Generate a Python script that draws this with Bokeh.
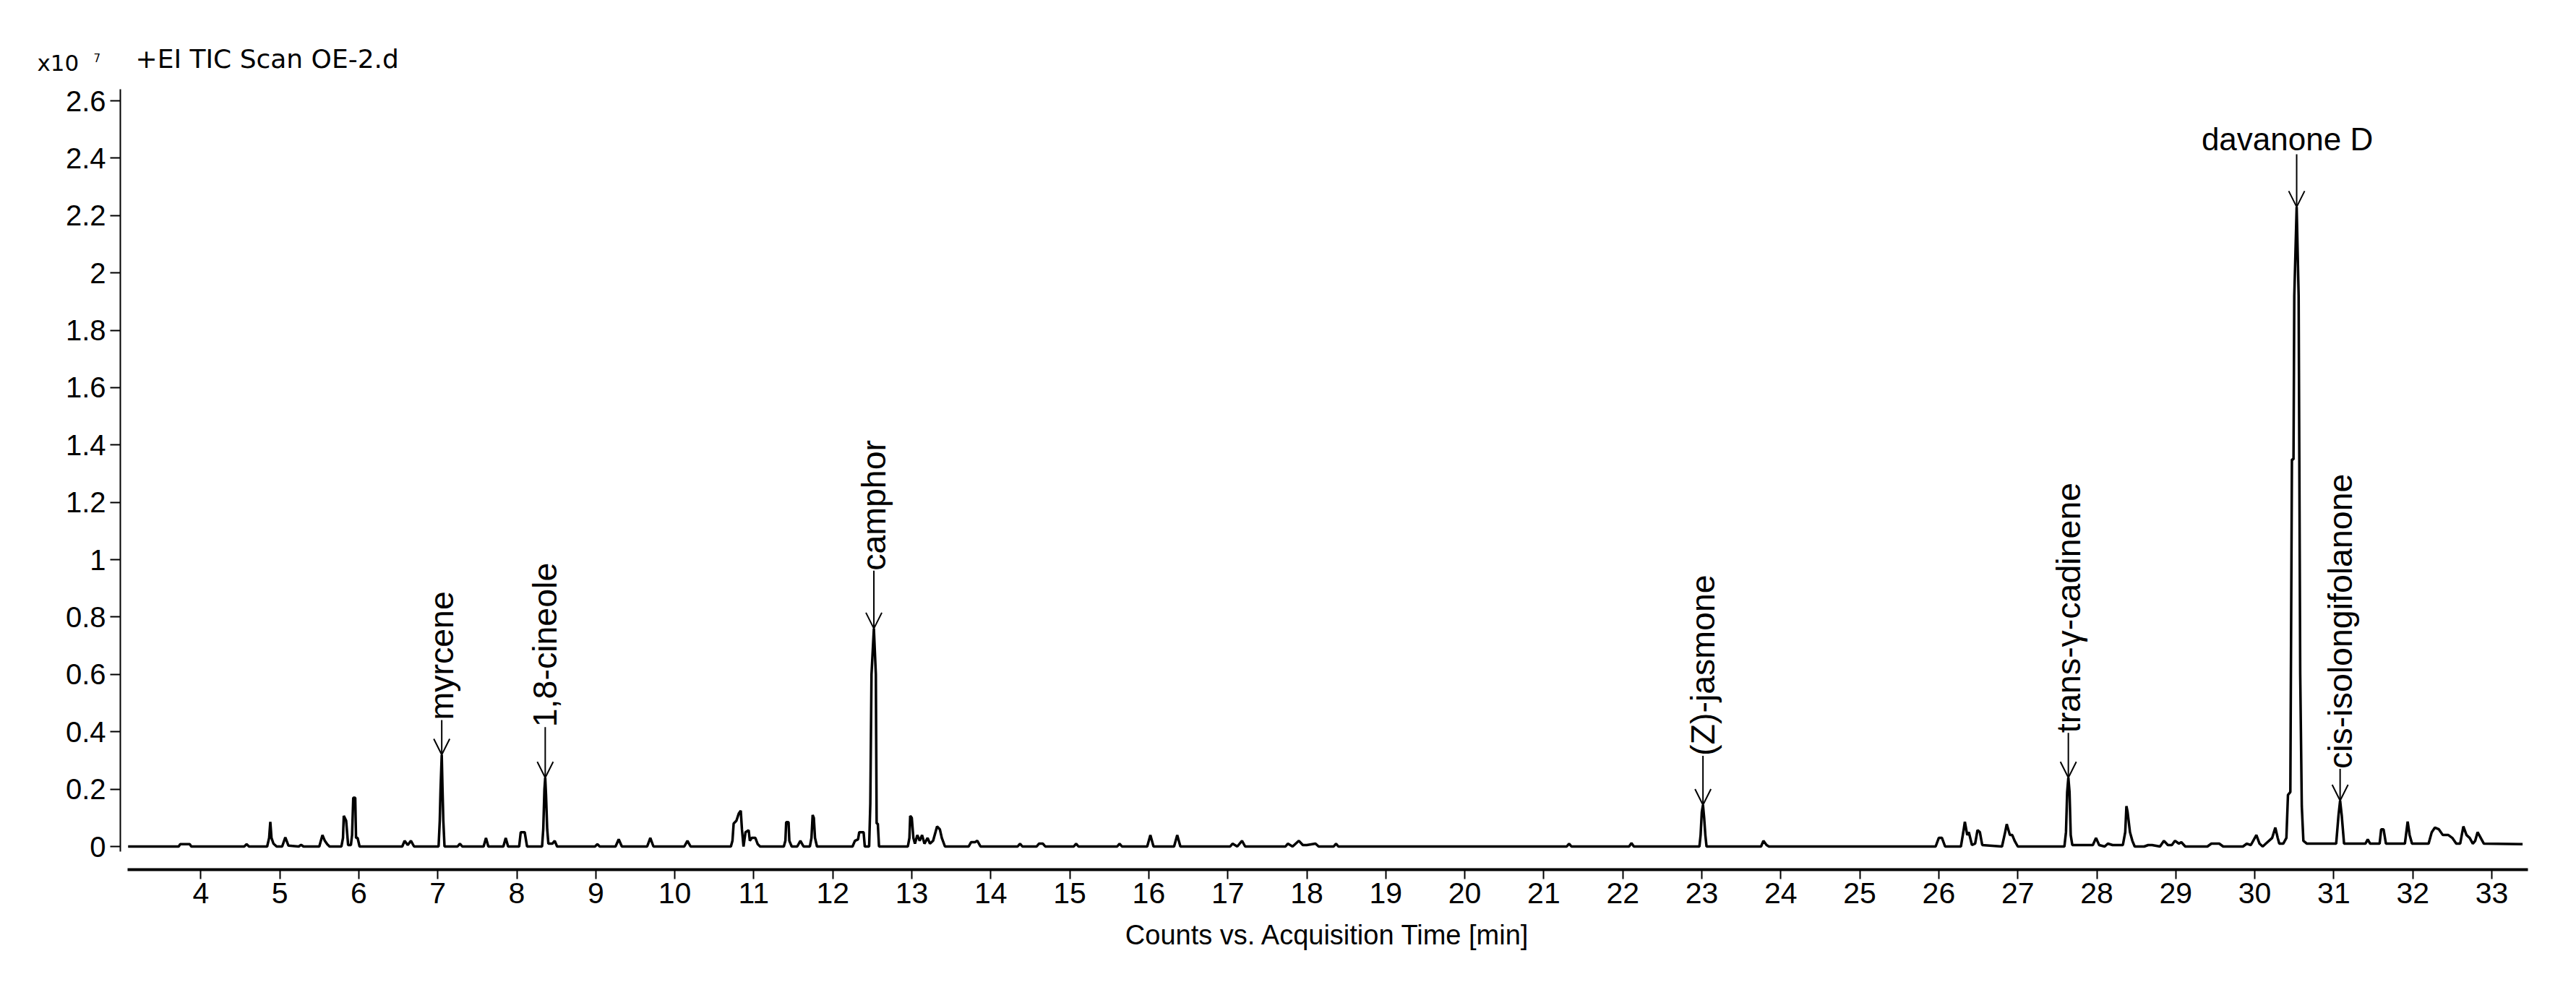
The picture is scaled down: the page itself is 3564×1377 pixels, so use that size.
import math
from bokeh.plotting import figure
from bokeh.models import (Range1d, FixedTicker, CustomJSTickFormatter,
                          Arrow, OpenHead)
from bokeh.core.properties import value
from bokeh.embed import file_html
from bokeh.resources import INLINE

# ---------------- data (retention time in min, counts in 1e7) ----------------
time_early = [3.08, 3.72, 3.74, 3.86, 3.88, 4.55, 4.58, 4.61,
              4.84, 4.865, 4.88, 4.895, 4.92, 4.96, 5.03, 5.07, 5.11,
              5.24, 5.27, 5.30, 5.50, 5.54, 5.57, 5.60, 5.63,
              5.78, 5.80, 5.81, 5.84, 5.865, 5.90, 5.915, 5.93, 5.955, 5.965, 5.985, 6.01,
              6.55, 6.58, 6.62, 6.66, 6.70,
              7.01, 7.025, 7.035, 7.05, 7.06, 7.07, 7.085,
              7.25, 7.28, 7.31, 7.58, 7.61, 7.64, 7.83, 7.86, 7.89,
              8.03, 8.05, 8.10, 8.13,
              8.32, 8.335, 8.35, 8.36, 8.37, 8.385, 8.40,
              8.45, 8.48, 8.51, 8.99, 9.02, 9.05]
counts_early = [0.0, 0.0, 0.008, 0.008, 0.0, 0.0, 0.008, 0.0,
                0.0, 0.03, 0.086, 0.03, 0.01, 0.0, 0.0, 0.032, 0.003,
                0.0, 0.006, 0.0, 0.0, 0.04, 0.02, 0.008, 0.0,
                0.0, 0.03, 0.107, 0.09, 0.005, 0.005, 0.04, 0.17, 0.17, 0.03, 0.03, 0.0,
                0.0, 0.02, 0.005, 0.02, 0.0,
                0.0, 0.09, 0.2, 0.32, 0.2, 0.09, 0.0,
                0.0, 0.01, 0.0, 0.0, 0.03, 0.0, 0.0, 0.03, 0.0,
                0.0, 0.05, 0.05, 0.0,
                0.0, 0.06, 0.2, 0.24, 0.18, 0.06, 0.01,
                0.01, 0.02, 0.0, 0.0, 0.008, 0.0]

time_mid = [9.25, 9.29, 9.33, 9.65, 9.69, 9.73, 10.12, 10.16, 10.20,
            10.71, 10.73, 10.745, 10.78, 10.81, 10.835, 10.85, 10.87, 10.895, 10.935,
            10.95, 10.975, 11.02, 11.05, 11.08,
            11.38, 11.40, 11.41, 11.44, 11.45, 11.48, 11.55, 11.59, 11.63,
            11.71, 11.73, 11.745, 11.76, 11.775, 11.80,
            12.25, 12.28, 12.32, 12.335, 12.39, 12.405, 12.44,
            12.46, 12.475, 12.49, 12.52, 12.545, 12.555, 12.57, 12.585,
            12.95, 12.97, 12.98, 13.00, 13.02, 13.04, 13.07, 13.10, 13.13, 13.16,
            13.20, 13.23, 13.27, 13.32, 13.355, 13.38, 13.42,
            13.72, 13.75, 13.80, 13.83, 13.87, 14.34, 14.37, 14.40,
            14.58, 14.61, 14.66, 14.69, 15.05, 15.08, 15.11,
            15.60, 15.63, 15.66, 15.98, 16.02, 16.06, 16.32, 16.36, 16.40,
            17.03, 17.06, 17.12, 17.18, 17.22,
            17.73, 17.76, 17.82, 17.90, 17.95, 18.00, 18.11, 18.15,
            18.34, 18.37, 18.40, 21.29, 21.32, 21.35, 22.08, 22.11, 22.14]
counts_mid = [0.0, 0.025, 0.0, 0.0, 0.03, 0.0, 0.0, 0.02, 0.0,
              0.0, 0.02, 0.08, 0.09, 0.115, 0.125, 0.06, 0.0, 0.05, 0.057,
              0.02, 0.03, 0.03, 0.008, 0.0,
              0.0, 0.02, 0.085, 0.085, 0.02, 0.0, 0.0, 0.02, 0.0,
              0.0, 0.03, 0.11, 0.10, 0.03, 0.0,
              0.0, 0.02, 0.025, 0.05, 0.05, 0.0, 0.0,
              0.0, 0.15, 0.6, 0.76, 0.6, 0.08, 0.08, 0.0,
              0.0, 0.03, 0.107, 0.10, 0.03, 0.01, 0.04, 0.02, 0.04, 0.01,
              0.03, 0.01, 0.02, 0.07, 0.06, 0.03, 0.0,
              0.0, 0.015, 0.015, 0.02, 0.0, 0.0, 0.01, 0.0,
              0.0, 0.01, 0.01, 0.0, 0.0, 0.01, 0.0,
              0.0, 0.01, 0.0, 0.0, 0.04, 0.0, 0.0, 0.04, 0.0,
              0.0, 0.01, 0.0, 0.02, 0.0,
              0.0, 0.01, 0.0, 0.02, 0.005, 0.005, 0.01, 0.0,
              0.0, 0.01, 0.0, 0.0, 0.01, 0.0, 0.0, 0.012, 0.0]

time_late = [22.97, 22.985, 23.00, 23.015, 23.03, 23.045, 23.06,
             23.75, 23.78, 23.82, 23.85,
             25.96, 26.00, 26.04, 26.08,
             26.28, 26.31, 26.33, 26.36, 26.38, 26.42, 26.46, 26.49, 26.52, 26.55,
             26.80, 26.84, 26.86, 26.90, 26.93, 26.96, 27.00,
             27.59, 27.61, 27.625, 27.64, 27.655, 27.67, 27.69,
             27.95, 27.99, 28.03, 28.10, 28.14, 28.20,
             28.33, 28.36, 28.375, 28.39, 28.42, 28.45, 28.48,
             28.60, 28.65, 28.70, 28.80, 28.85, 28.90, 28.95, 28.99, 29.04, 29.07, 29.12,
             29.40, 29.45, 29.55, 29.60,
             29.85, 29.90, 29.95, 30.02, 30.06, 30.10, 30.14, 30.22, 30.26, 30.29, 30.31, 30.36,
             30.40, 30.42, 30.45, 30.47, 30.49, 30.50, 30.53, 30.555, 30.575, 30.595, 30.615, 30.66,
             31.03, 31.06, 31.08, 31.10, 31.13,
             31.40, 31.43, 31.46, 31.58, 31.60, 31.63, 31.66,
             31.90, 31.935, 31.96, 31.99,
             32.20, 32.24, 32.28, 32.33, 32.38, 32.45, 32.50, 32.55, 32.60, 32.64,
             32.68, 32.72, 32.76, 32.79, 32.82, 32.86, 32.90, 33.39]
counts_late = [0.0, 0.04, 0.12, 0.145, 0.10, 0.04, 0.0,
               0.0, 0.02, 0.005, 0.0,
               0.0, 0.03, 0.03, 0.0,
               0.0, 0.05, 0.086, 0.04, 0.05, 0.005, 0.01, 0.057, 0.05, 0.005,
               0.0, 0.05, 0.078, 0.04, 0.04, 0.02, 0.0,
               0.0, 0.05, 0.19, 0.24, 0.19, 0.04, 0.005,
               0.005, 0.03, 0.005, 0.0, 0.01, 0.005,
               0.005, 0.05, 0.141, 0.12, 0.05, 0.02, 0.0,
               0.0, 0.005, 0.005, 0.0, 0.02, 0.005, 0.005, 0.02, 0.01, 0.015, 0.0,
               0.0, 0.01, 0.01, 0.0,
               0.0, 0.01, 0.005, 0.04, 0.01, 0.0, 0.01, 0.03, 0.066, 0.03, 0.01, 0.01,
               0.03, 0.18, 0.19, 1.35, 1.35, 1.92, 2.23, 1.92, 0.6, 0.14, 0.02, 0.01,
               0.01, 0.11, 0.16, 0.11, 0.01,
               0.01, 0.025, 0.01, 0.01, 0.06, 0.06, 0.01,
               0.01, 0.087, 0.04, 0.01,
               0.01, 0.05, 0.066, 0.06, 0.04, 0.04, 0.03, 0.01, 0.01, 0.07,
               0.04, 0.03, 0.01, 0.02, 0.05, 0.03, 0.01, 0.008]

peak_names = ["myrcene", "1,8-cineole", "camphor", "(Z)-jasmone",
              "trans-\u03b3-cadinene", "davanone D", "cis-isolongifolanone"]
peak_rt = [7.05, 8.36, 12.52, 23.015, 27.64, 30.53, 31.08]
peak_apex = [0.32, 0.24, 0.76, 0.145, 0.24, 2.23, 0.16]

x_ticks = list(range(4, 34))
y_ticks = [0, 0.2, 0.4, 0.6, 0.8, 1, 1.2, 1.4, 1.6, 1.8, 2, 2.2, 2.4, 2.6]

# ---------------- layout / style ----------------
W, H = 3548, 1361
PPM = 109.3     # pixels per minute
PPU = 396.9     # pixels per 1e7 counts
X_AT_4 = 277.3  # pixel x of t = 4 min
Y_AT_0 = 1171   # pixel y of zero counts
X0 = 4 - X_AT_4 / PPM
X1 = X0 + W / PPM
Y1 = Y_AT_0 / PPU
Y0 = Y1 - H / PPU

def dx(px):
    return X0 + px / PPM

def dy(py):
    return Y1 - py / PPU

FONT = "Liberation Sans"
HEAD_FONT = "DejaVu Sans"
arrow_len_px = [48, 70, 80, 68, 62, 73, 44]

p = figure(width=W, height=H, output_backend="svg", toolbar_location=None,
           x_range=Range1d(X0, X1), y_range=Range1d(Y0, Y1),
           min_border_left=0, min_border_right=0,
           min_border_top=0, min_border_bottom=0,
           background_fill_color="white", border_fill_color="white")
p.title.visible = False
p.xgrid.visible = False
p.ygrid.visible = False
p.outline_line_color = None

xa = p.xaxis[0]
xa.fixed_location = dy(1203)
xa.ticker = FixedTicker(ticks=x_ticks)
xa.bounds = (3.07, 33.46)
xa.axis_line_width = 4
xa.axis_line_color = "black"
xa.major_tick_out = 13
xa.major_tick_in = 0
xa.major_tick_line_width = 2
xa.minor_tick_out = 0
xa.minor_tick_in = 0
xa.major_label_standoff = 5
xa.major_label_text_font = FONT
xa.major_label_text_font_size = "41px"
xa.major_label_text_color = "black"
xa.axis_label = "Counts vs. Acquisition Time [min]"
xa.axis_label_text_font = FONT
xa.axis_label_text_font_size = "38px"
xa.axis_label_text_font_style = "normal"
xa.axis_label_text_color = "black"
xa.axis_label_standoff = 20

ya = p.yaxis[0]
ya.fixed_location = dx(166)
ya.ticker = FixedTicker(ticks=y_ticks)
ya.bounds = (-0.018, 2.64)
ya.axis_line_width = 2
ya.axis_line_color = "black"
ya.major_tick_out = 14
ya.major_tick_in = 0
ya.major_tick_line_width = 2
ya.minor_tick_out = 0
ya.minor_tick_in = 0
ya.major_label_standoff = 6
ya.major_label_text_font = FONT
ya.major_label_text_font_size = "40px"
ya.major_label_text_color = "black"
ya.formatter = CustomJSTickFormatter(code="return Number(tick.toFixed(2)).toString();")

# chromatogram trace
trace_t = time_early + time_mid + time_late
trace_c = counts_early + counts_mid + counts_late
p.line(trace_t, trace_c, line_color="black", line_width=3.5)

# peak annotations
for name, rt, apex, alen in zip(peak_names, peak_rt, peak_apex, arrow_len_px):
    top = apex + alen / PPU
    p.add_layout(Arrow(end=OpenHead(size=22, line_width=2, line_color="black"),
                       x_start=rt, y_start=top, x_end=rt, y_end=apex,
                       line_width=2, line_color="black"))
    if name == "davanone D":
        p.text(x=[rt], y=[top + 21 / PPU], text=[name], text_font=value(FONT),
               text_font_size="44px", text_align="center",
               text_baseline="alphabetic", x_offset=-13, text_color="black")
    else:
        p.text(x=[rt], y=[top], text=[name], text_font=value(FONT),
               text_font_size="46.5px", text_align="left", angle=math.pi / 2,
               text_baseline="middle", text_color="black")

# header texts
p.text(x=[dx(51)], y=[dy(86)], text=["x10"], text_font=value(HEAD_FONT),
       text_font_size="31px", text_baseline="middle", text_color="black")
p.text(x=[dx(129)], y=[dy(79)], text=["7"], text_font=value(HEAD_FONT),
       text_font_size="15px", text_baseline="middle", text_color="black")
p.text(x=[dx(187)], y=[dy(81)], text=["+EI TIC Scan OE-2.d"], text_font=value(HEAD_FONT),
       text_font_size="36px", text_baseline="middle", text_color="black")

open("out.html", "w").write(file_html(p, INLINE))
